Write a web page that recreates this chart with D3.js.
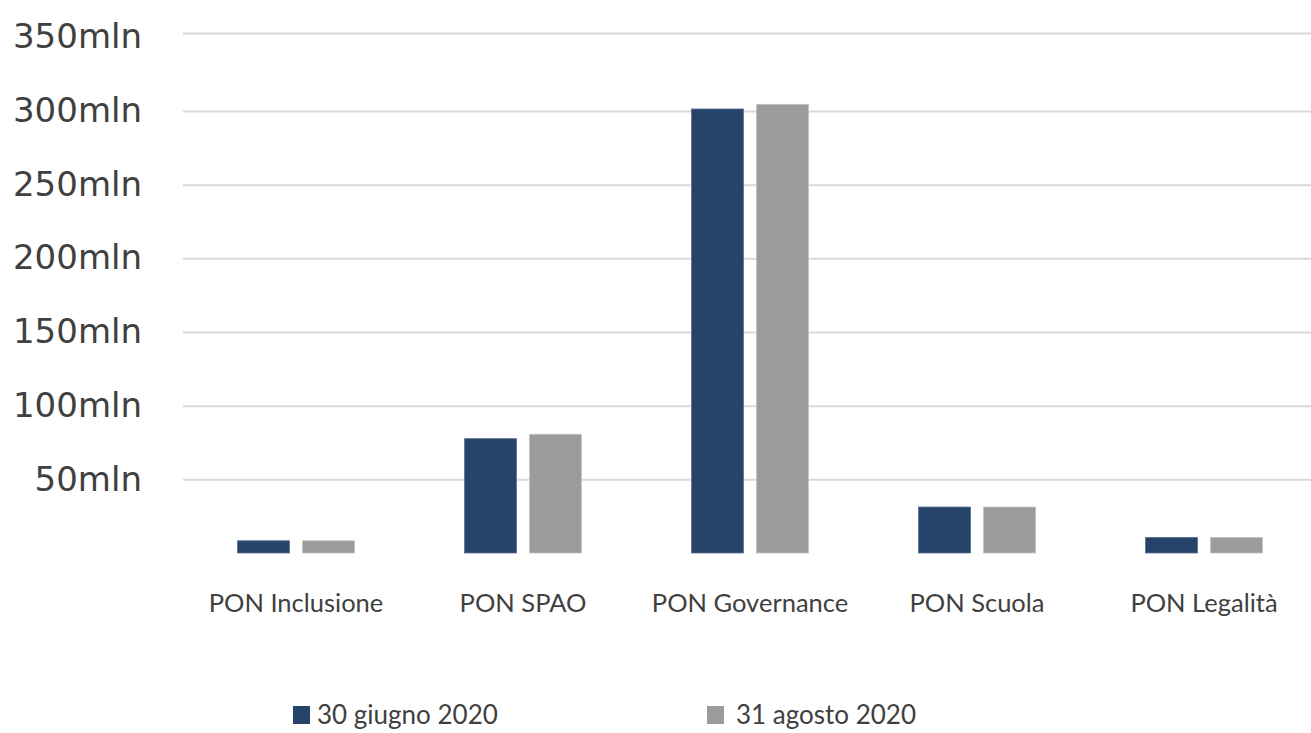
<!DOCTYPE html>
<html>
<head>
<meta charset="utf-8">
<script src="https://cdn.jsdelivr.net/npm/d3@7"></script>
<style>
    body { margin: 0; background: #fff; }
    svg { display: block; }
</style>
</head>
<body>
<div id="chart-container"></div>
<script>
var categories = ['PON Inclusione', 'PON SPAO', 'PON Governance', 'PON Scuola', 'PON Legalità'];
var seriesNames = ['30 giugno 2020', '31 agosto 2020'];
var june = [8.3, 77.6, 301.3, 31.2, 10.6];
var august = [8.3, 80.6, 304.3, 31.2, 10.6];
var yTicks = [50, 100, 150, 200, 250, 300, 350];
var colors = ['#264369', '#9b9b9b'];

function renderChart() {
    var W = 1311, H = 733;
    var svg = d3.select('#chart-container')
        .append('svg')
        .attr('width', W)
        .attr('height', H);

    var x = d3.scaleBand()
        .domain(categories)
        .range([182.5, 1317.5]);

    var inner = d3.scaleBand()
        .domain(seriesNames)
        .range([0, 117])
        .paddingInner(0.2);

    // the top gridline sits a little higher in the source picture
    var y = d3.scaleLinear()
        .domain([0, 300, 350])
        .range([553, 111, 33]);

    // labels are evenly spaced
    var yLab = d3.scaleLinear()
        .domain([0, 350])
        .range([551.5, 35.5]);

    // Grid lines
    svg.append('g')
        .attr('class', 'grid')
        .attr('transform', 'translate(183,0)')
        .call(d3.axisLeft(y).tickValues(yTicks).tickSize(-(W - 183)).tickFormat(''))
        .call(function(g) { g.select('.domain').remove(); })
        .selectAll('line')
        .attr('stroke', '#d9d9d9')
        .attr('stroke-width', 2);

    // Y axis labels
    svg.append('g')
        .attr('transform', 'translate(142,0)')
        .call(d3.axisLeft(yLab).tickValues(yTicks).tickSize(0).tickPadding(0)
            .tickFormat(function(d) { return d + 'mln'; }))
        .call(function(g) { g.select('.domain').remove(); })
        .selectAll('text')
        .attr('fill', '#404040')
        .attr('font-family', 'DejaVu Sans')
        .attr('font-size', 34)
        .attr('dy', '0.36em');

    // Bars
    var data = categories.map(function(c, i) {
        return { cat: c, values: [june[i], august[i]] };
    });

    var groups = svg.selectAll('.cat')
        .data(data)
        .enter()
        .append('g')
        .attr('transform', function(d) {
            return 'translate(' + (x(d.cat) + (x.bandwidth() - 117) / 2) + ',0)';
        });

    groups.selectAll('rect')
        .data(function(d) { return d.values.map(function(v, k) { return { s: seriesNames[k], v: v, k: k }; }); })
        .enter()
        .append('rect')
        .attr('x', function(d) { return inner(d.s); })
        .attr('width', inner.bandwidth())
        .attr('y', function(d) { return y(d.v); })
        .attr('height', function(d) { return y(0) - y(d.v); })
        .attr('fill', function(d) { return colors[d.k]; })
        .attr('stroke', function(d) { return d.k === 0 ? '#5a7196' : '#c4c4c4'; })
        .attr('stroke-width', 0.8);

    // X axis labels
    svg.append('g')
        .attr('transform', 'translate(0,603)')
        .call(d3.axisBottom(x).tickSize(0).tickPadding(0))
        .call(function(g) { g.select('.domain').remove(); })
        .selectAll('text')
        .attr('fill', '#404040')
        .attr('font-family', 'Lato')
        .attr('font-size', 25.5)
        .attr('dy', '0.35em');

    // Legend
    var legendX = [293, 707];
    var legend = svg.selectAll('.legend')
        .data(seriesNames)
        .enter()
        .append('g')
        .attr('transform', function(d, i) { return 'translate(' + legendX[i] + ',706)'; });

    legend.append('rect')
        .attr('width', 17)
        .attr('height', 18)
        .attr('fill', function(d, i) { return colors[i]; });

    legend.append('text')
        .attr('x', function(d, i) { return i === 0 ? 24 : 29; })
        .attr('y', 9)
        .attr('dy', '0.35em')
        .attr('fill', '#404040')
        .attr('font-family', 'Lato')
        .attr('font-size', 26)
        .text(function(d) { return d; });
}

renderChart();
</script>
</body>
</html>
